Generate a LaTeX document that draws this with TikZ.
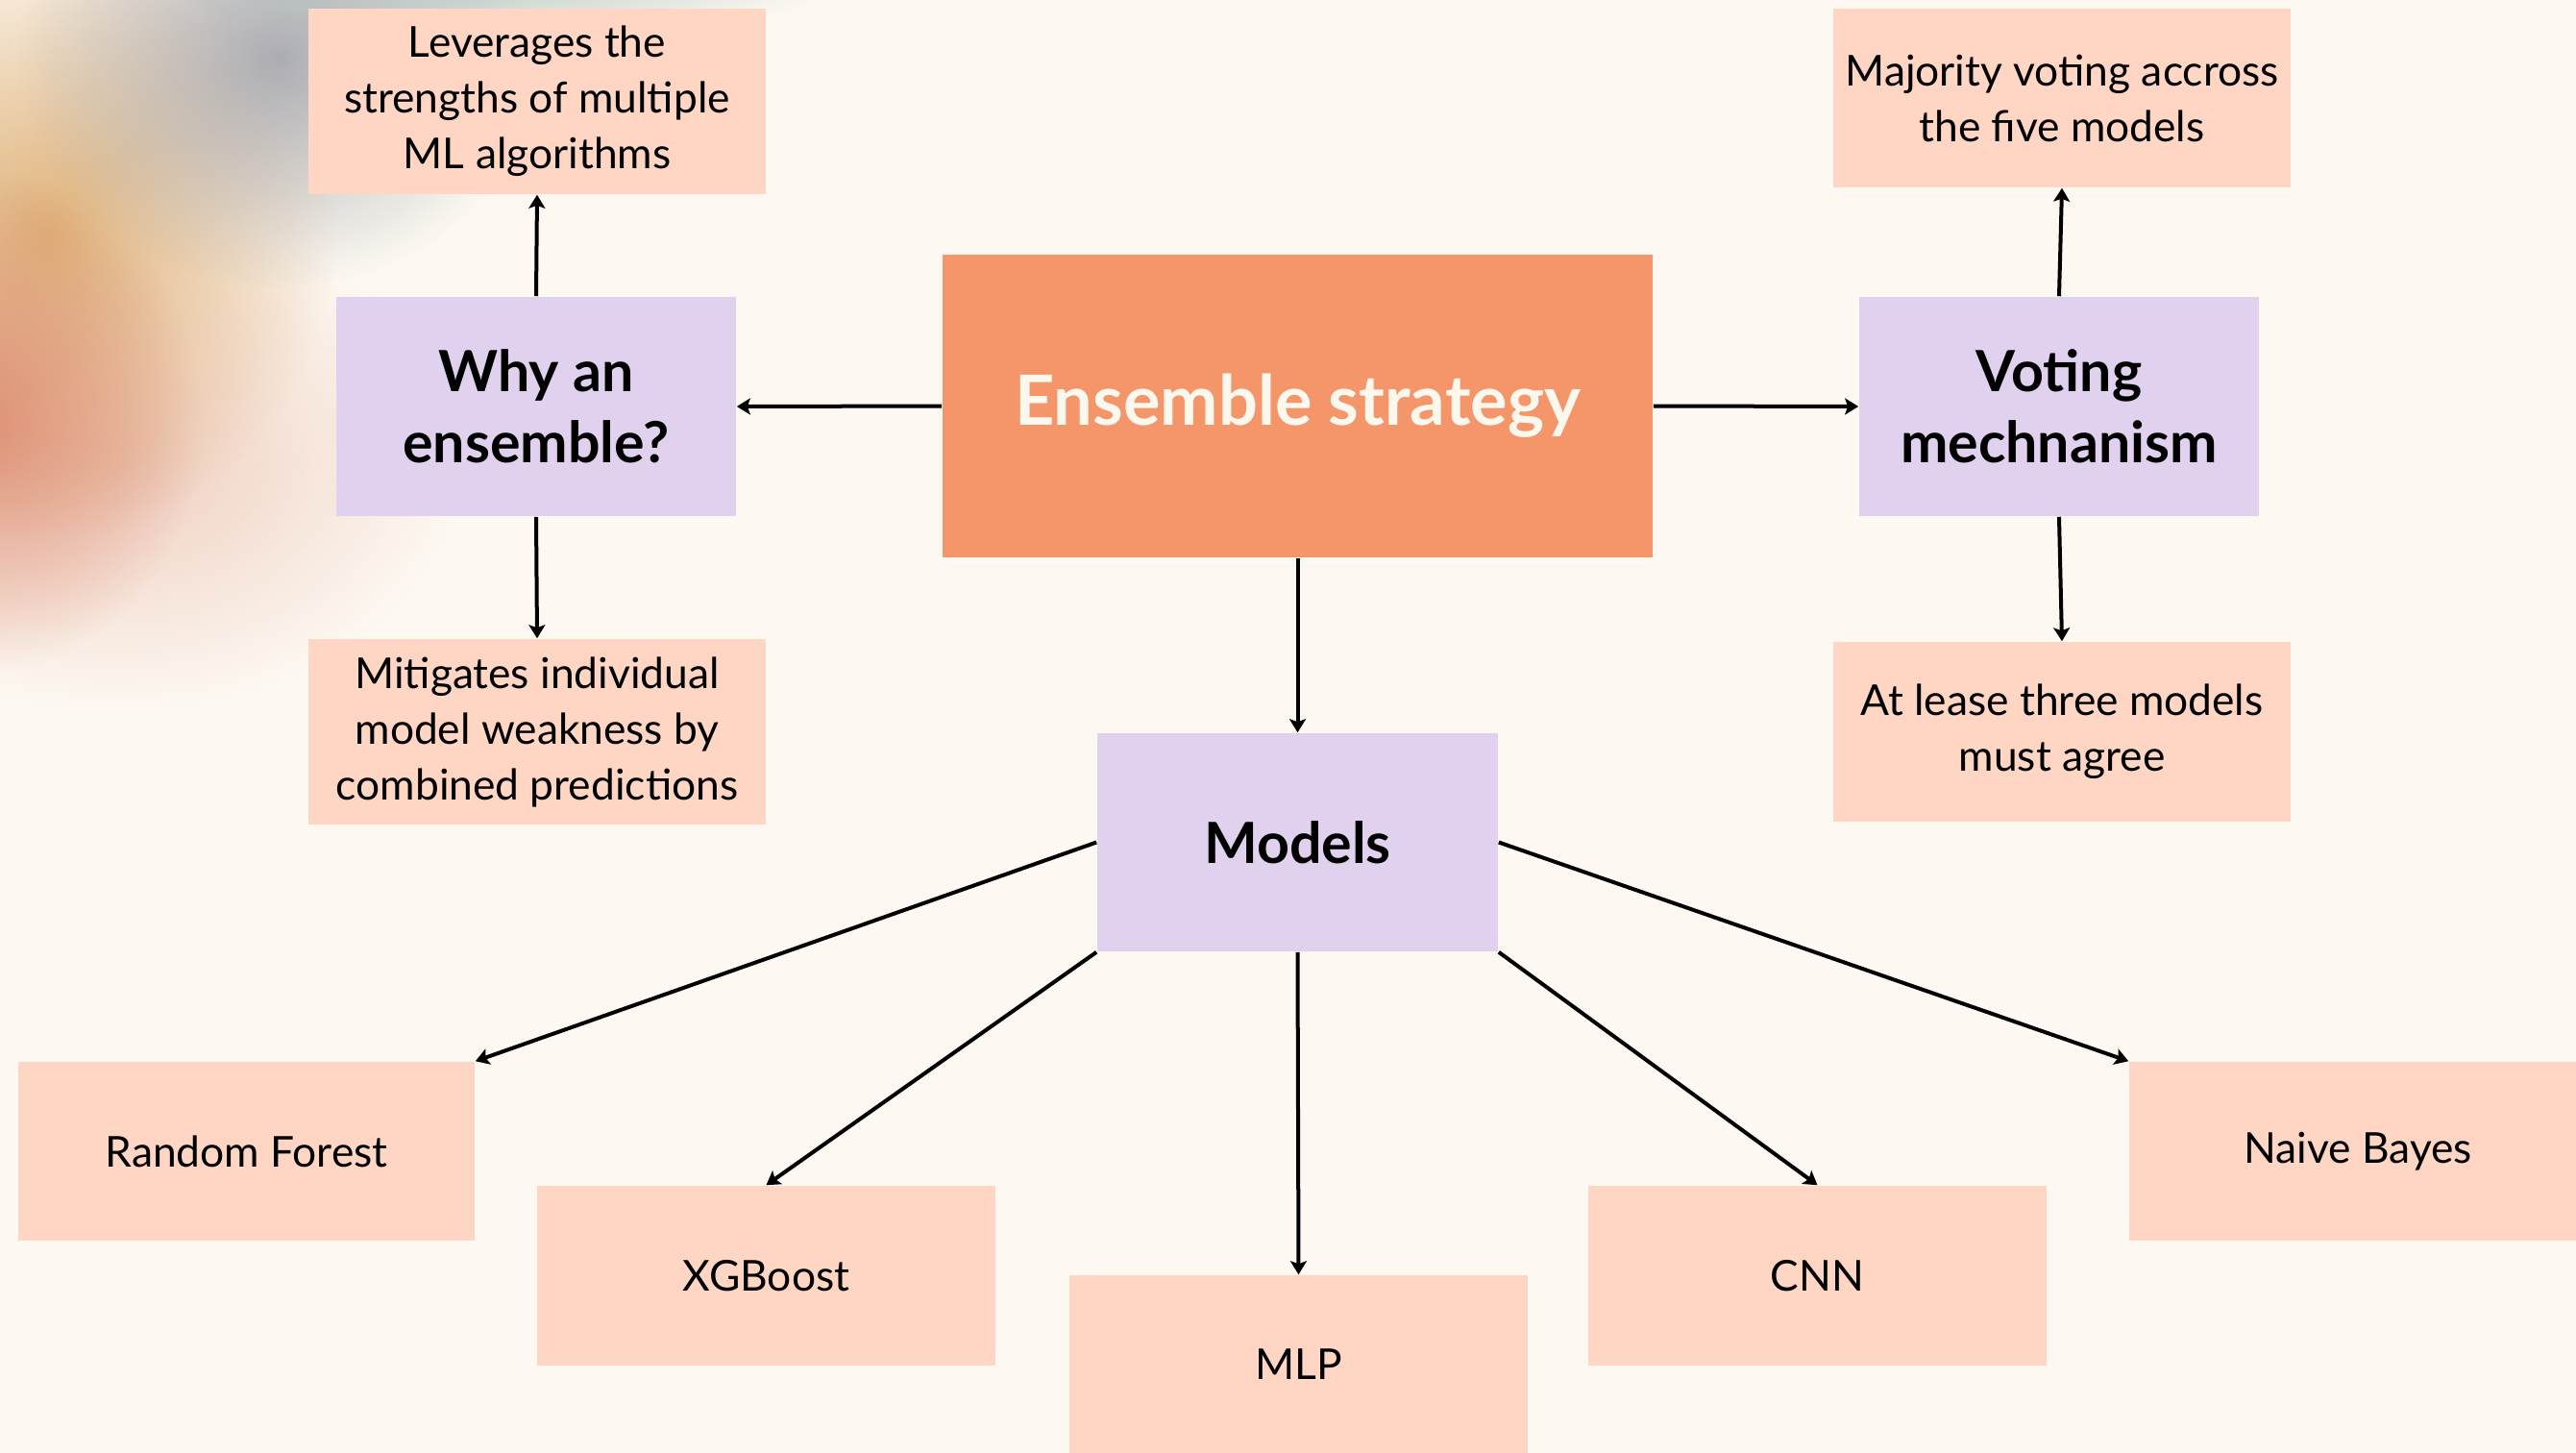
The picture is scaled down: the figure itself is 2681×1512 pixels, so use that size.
\documentclass[tikz,border=0pt]{standalone}
\usepackage{fontspec}
\setmainfont{Lato}
\usetikzlibrary{arrows.meta,fadings}
\definecolor{bg}{HTML}{FDF9F2}
\definecolor{peach}{HTML}{FFD5C3}
\definecolor{lilac}{HTML}{E0D1EE}
\definecolor{orng}{HTML}{F4956A}
\definecolor{cream}{HTML}{FDF8EE}
\definecolor{blobgrey}{HTML}{9EA0A8}
\definecolor{blobteal}{HTML}{A6BEBA}
\definecolor{blobgold}{HTML}{DCAA6C}
\definecolor{blobterra}{HTML}{DC876C}
\definecolor{blobpink}{HTML}{EBBFAE}
\tikzfading[name=softblob, inner color=transparent!0, outer color=transparent!100]
\tikzset{
  box/.style={rectangle, inner sep=0pt, align=center, text=black},
  leaf/.style={box, fill=peach, minimum width=4.76cm, minimum height=1.87cm,
    font=\fontsize{12.6}{16.5}\selectfont},
  hub/.style={box, fill=lilac, minimum width=4.16cm, minimum height=2.28cm,
    font=\fontsize{16.8}{21}\selectfont\bfseries},
  core/.style={box, fill=orng, text=cream, minimum width=7.39cm, minimum height=3.15cm,
    font=\fontsize{20.5}{25}\selectfont\bfseries},
  arr/.style={draw=black, line width=0.04cm, -{Stealth[length=0.14cm,width=0.17cm,inset=0.03cm]}}
}
\begin{document}
\begin{tikzpicture}[x=0.01cm,y=-0.01cm]
\clip (0,0) rectangle (2681,1512);
\fill[bg] (0,0) rectangle (2681,1512);
% blurred blob top-left
\fill[blobpink, path fading=softblob, opacity=0.75] (120,480) ellipse (360 and 260);
\fill[blobgold, path fading=softblob, opacity=0.9] (50,240) ellipse (300 and 320);
\fill[blobterra, path fading=softblob, opacity=0.85] (-20,440) ellipse (230 and 260);
\fill[blobgrey, path fading=softblob, opacity=0.85] (290,60) ellipse (270 and 240);
\fill[blobteal, path fading=softblob, opacity=0.7] (520,-20) ellipse (340 and 70);

\node[leaf, minimum height=1.93cm] (lev) at (559,105.5) {Leverages the\\strengths of multiple\\ML algorithms};
\node[hub] (why) at (558,423) {Why an\\ensemble?};
\node[leaf, minimum height=1.93cm] (mit) at (559,761.5) {Mitigates individual\\model weakness by\\combined predictions};
\node[core] (ens) at (1350.5,422.5) {Ensemble strategy};
\node[hub] (vot) at (2143,423) {Voting\\mechnanism};
\node[leaf, minimum height=1.86cm] (maj) at (2146,102) {Majority voting accross\\the five models};
\node[leaf] (atl) at (2146,761.5) {At lease three models\\must agree};
\node[hub, minimum width=4.17cm, minimum height=2.27cm] (mod) at (1350.5,876.5) {Models};
\node[leaf, minimum width=4.75cm, minimum height=1.86cm] (rf) at (256.5,1198) {Random Forest};
\node[leaf] (xgb) at (797.5,1327.5) {XGBoost};
\node[leaf, minimum height=1.85cm] (mlp) at (1351.5,1419.5) {MLP};
\node[leaf] (cnn) at (1891.5,1327.5) {CNN};
\node[leaf, minimum height=1.86cm] (nb) at (2454,1198) {Naive Bayes};

\draw[arr] (ens.west) -- (why.east);
\draw[arr] (ens.east) -- (vot.west);
\draw[arr] (ens.south) -- (mod.north);
\draw[arr] (why.north) -- (lev.south);
\draw[arr] (why.south) -- (mit.north);
\draw[arr] (vot.north) -- (maj.south);
\draw[arr] (vot.south) -- (atl.north);
\draw[arr] (mod.west) -- (rf.north east);
\draw[arr] (mod.south west) -- (xgb.north);
\draw[arr] (mod.south) -- (mlp.north);
\draw[arr] (mod.south east) -- (cnn.north);
\draw[arr] (mod.east) -- (nb.north west);
\end{tikzpicture}
\end{document}
